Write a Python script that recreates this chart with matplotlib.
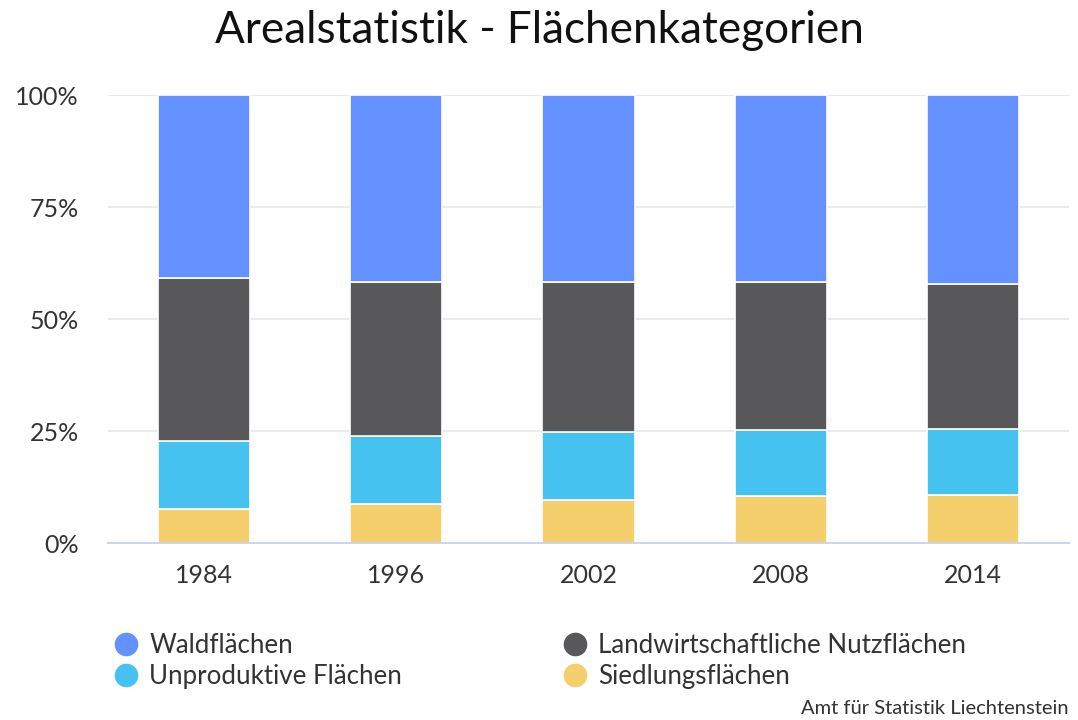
import matplotlib
matplotlib.use("Agg")
import matplotlib.pyplot as plt
from matplotlib.lines import Line2D
import numpy as np

plt.rcParams['font.family'] = ['Lato', 'DejaVu Sans']

# Anteile in Prozent, von unten nach oben gestapelt
jahre = ["1984", "1996", "2002", "2008", "2014"]
siedlung = [7.6, 8.7, 9.6, 10.5, 10.7]
unproduktiv = [15.2, 15.2, 15.2, 14.8, 14.8]
landwirtschaft = [36.5, 34.5, 33.6, 33.1, 32.4]
wald = [40.7, 41.6, 41.6, 41.6, 42.1]

serien = [
    ("Siedlungsflächen", siedlung, "#f4cf6b"),
    ("Unproduktive Flächen", unproduktiv, "#45c2f0"),
    ("Landwirtschaftliche Nutzflächen", landwirtschaft, "#58585a"),
    ("Waldflächen", wald, "#6391ff"),
]
farbe = {name: c for name, _, c in serien}

fig = plt.figure(figsize=(10.78, 7.2), dpi=100)
ax = fig.add_axes([0.1002, 0.2458, 0.8915, 0.6216])

x = np.arange(len(jahre))
unten = np.zeros(len(jahre))
for name, werte, c in serien:
    werte = np.array(werte)
    ax.bar(x, werte, bottom=unten, width=0.48, color=c,
           edgecolor="white", linewidth=1.2, zorder=3)
    unten += werte

ax.set_xlim(-0.5, len(jahre) - 0.5)
ax.set_ylim(0, 100)
ax.set_yticks([0, 25, 50, 75, 100])
ax.set_yticklabels(["0%", "25%", "50%", "75%", "100%"])
ax.set_xticks(x)
ax.set_xticklabels(jahre)
ax.yaxis.grid(True, color="#e6e6e6", linewidth=1.2, zorder=0)
ax.tick_params(axis="both", length=0, labelsize=18, colors="#333333")
ax.tick_params(axis="y", pad=21)
ax.tick_params(axis="x", pad=15)
for s in ["top", "right", "left"]:
    ax.spines[s].set_visible(False)
ax.spines["bottom"].set_color("#ccd6eb")
ax.spines["bottom"].set_linewidth(1.5)
ax.spines["bottom"].set_zorder(4)

fig.text(0.5, 0.957, "Arealstatistik - Flächenkategorien", ha="center",
         va="center", fontsize=31.7, color="#111111")


def griff(name):
    return Line2D([], [], marker="o", linestyle="none", markersize=16,
                  markerfacecolor=farbe[name], markeredgecolor=farbe[name],
                  label=name)


kw = dict(frameon=False, fontsize=18.6, handletextpad=0.38, labelspacing=0.24,
          borderaxespad=0, borderpad=0, handlelength=1.0,
          labelcolor="#333333", loc="center left")
leg1 = fig.legend(handles=[griff("Waldflächen"), griff("Unproduktive Flächen")],
                  bbox_to_anchor=(0.1053, 0.0819), **kw)
leg2 = fig.legend(handles=[griff("Landwirtschaftliche Nutzflächen"),
                           griff("Siedlungsflächen")],
                  bbox_to_anchor=(0.5218, 0.0819), **kw)

fig.text(0.991, 0.0153, "Amt für Statistik Liechtenstein", ha="right",
         va="center", fontsize=14.5, color="#333333")

fig.savefig("out.png", dpi=100)
